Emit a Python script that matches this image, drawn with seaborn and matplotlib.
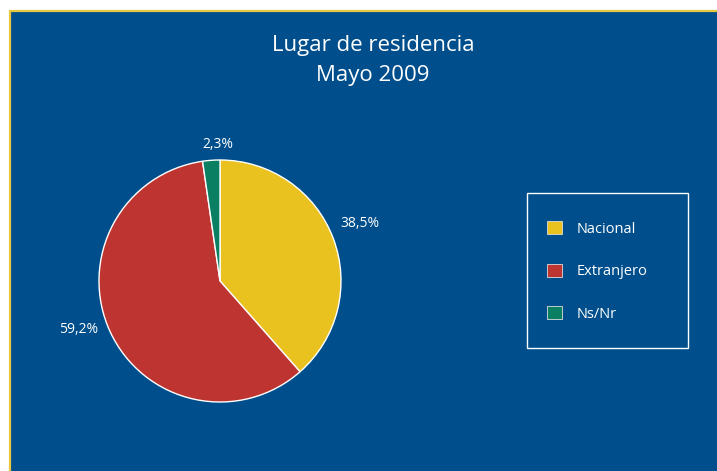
import numpy as np
import matplotlib
matplotlib.use("Agg")
import matplotlib.pyplot as plt
from matplotlib.patches import Rectangle, Patch
from matplotlib.lines import Line2D
import seaborn as sns

# ---- data ----
categories = ["Nacional", "Extranjero", "Ns/Nr"]
values = [38.5, 59.2, 2.3]
value_labels = ["38,5%", "59,2%", "2,3%"]
title_lines = ["Lugar de residencia", "Mayo 2009"]

sns.set_theme(style="white")
plt.rcParams["font.family"] = ["Open Sans", "DejaVu Sans"]

BG = "#004f8c"
colors = sns.color_palette(["#e9c21f", "#be3430", "#0b7f61"])

W, H = 717, 471
fig = plt.figure(figsize=(W / 100, H / 100), dpi=100, facecolor="white")

def fx(x):
    return x / W

def fy(y):
    return 1 - y / H

# panel background
fig.patches.append(Rectangle((fx(10), 0), 1 - fx(10), fy(11), transform=fig.transFigure,
                             facecolor=BG, edgecolor="none", zorder=-10))
fig.add_artist(Line2D([fx(9.5), 1], [fy(10.5), fy(10.5)], transform=fig.transFigure,
                      color="#e8c640", lw=1.6, zorder=-5))
fig.add_artist(Line2D([fx(9.5), fx(9.5)], [0, fy(10.5)], transform=fig.transFigure,
                      color="#e8c640", lw=1.6, zorder=-5))

# title
fig.text(fx(373), fy(45), title_lines[0], ha="center", va="center", color="white", fontsize=16)
fig.text(fx(373), fy(75), title_lines[1], ha="center", va="center", color="white", fontsize=16)

# pie
cx, cy, r = 220, 281, 121
ax = fig.add_axes([fx(cx - r), fy(cy + r), 2 * r / W, 2 * r / H])
ax.set_zorder(5)
ax.set_facecolor("none")
wedges, _ = ax.pie(values, colors=colors, startangle=90, counterclock=False,
                   wedgeprops=dict(edgecolor="white", linewidth=1.0))
ax.set_xlim(-1, 1)
ax.set_ylim(-1, 1)
ax.set_aspect("equal")
ax.axis("off")

label_r = [1.25, 1.24, 1.13]
label_nudge = [1.8, -5.8, -3.3]
for w, lab, lr, nd in zip(wedges, value_labels, label_r, label_nudge):
    mid = np.deg2rad((w.theta1 + w.theta2) / 2 + nd)
    ax.text(lr * np.cos(mid), lr * np.sin(mid), lab, ha="center", va="center",
            color="white", fontsize=10, clip_on=False)

# legend box
fig.patches.append(Rectangle((fx(527), fy(348)), (688 - 527) / W, (348 - 193) / H,
                             transform=fig.transFigure, facecolor="none",
                             edgecolor="white", lw=1.0, zorder=2))
handles = [Patch(facecolor=c, edgecolor="#dddddd", linewidth=0.6) for c in colors]
leg = fig.legend(handles, categories, loc="upper left",
                 bbox_to_anchor=(fx(547), fy(221)), frameon=False,
                 fontsize=10.5, labelcolor="white", handlelength=1.0, handleheight=1.0,
                 handletextpad=1.05, labelspacing=1.86, borderpad=0, borderaxespad=0)

fig.savefig("out.png", dpi=100, facecolor="white")
